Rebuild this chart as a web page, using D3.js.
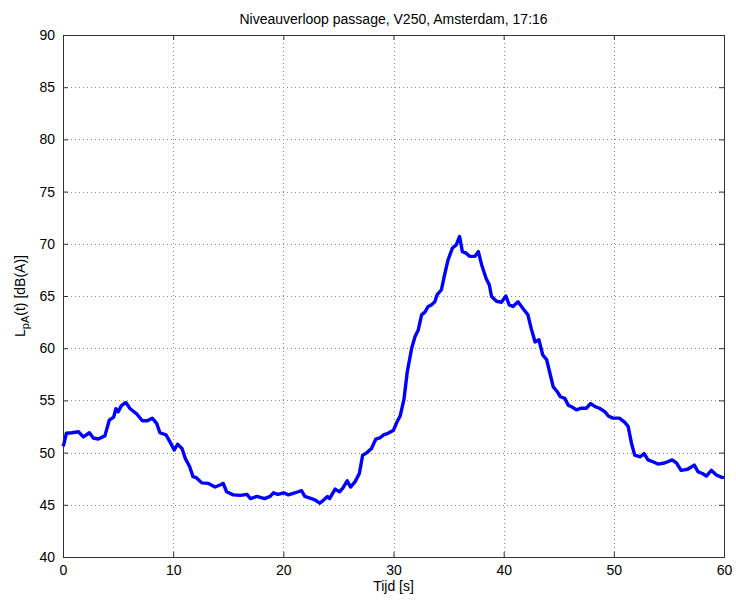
<!DOCTYPE html>
<html lang="nl">
<head>
<meta charset="utf-8">
<script src="https://cdnjs.cloudflare.com/ajax/libs/d3/7.8.5/d3.min.js"></script>
<style>
  body { margin: 0; background: #fff; }
  text { font-family: "Liberation Sans", Arial, sans-serif; fill: #000; }
  .grid line { stroke: #8c8c8c; stroke-dasharray: 1,3; stroke-width: 1; }
</style>
</head>
<body>
<script>
// time [s] and level [dB(A)]
var tijd = [0, 0.1, 0.3, 0.8, 1.4, 1.85, 2.4, 2.75, 3.2, 3.8, 4.2, 4.6, 4.8, 5.0, 5.3, 5.7, 6.1, 6.7, 7.2, 7.65,
  8.1, 8.5, 8.8, 9.35, 9.7, 10.1, 10.4, 10.8, 11.1, 11.5, 11.8, 12.1, 12.6, 13.2, 13.8, 14.25, 14.55, 14.85, 15.45, 16.1,
  16.7, 17.0, 17.6, 18.3, 18.8, 19.1, 19.5, 20.05, 20.45, 20.9, 21.35, 21.65, 21.95, 22.55, 22.9, 23.3, 23.6, 24.0, 24.2, 24.7,
  25.1, 25.4, 25.8, 26.1, 26.5, 26.9, 27.2, 27.6, 28.0, 28.4, 28.75, 29.1, 29.5, 30.0, 30.3, 30.6, 30.95, 31.25, 31.65, 31.95,
  32.25, 32.55, 32.85, 33.15, 33.45, 33.75, 33.95, 34.35, 34.6, 34.95, 35.35, 35.7, 36.0, 36.25, 36.6, 36.9, 37.4, 37.7, 38.0, 38.4,
  38.7, 38.9, 39.35, 39.8, 40.2, 40.5, 40.85, 41.3, 41.75, 42.2, 42.5, 42.85, 43.2, 43.55, 43.9, 44.2, 44.5, 44.85, 45.15, 45.55,
  45.85, 46.15, 46.6, 47.05, 47.5, 47.9, 48.3, 48.7, 49.2, 49.5, 49.9, 50.5, 51.0, 51.3, 51.6, 51.9, 52.4, 52.75, 53.1, 53.6,
  54.0, 54.6, 55.3, 55.7, 56.1, 56.7, 57.3, 57.65, 58.05, 58.4, 58.85, 59.3, 59.75, 60];
var niveau = [50.6, 50.9, 51.85, 51.9, 52.0, 51.5, 51.9, 51.4, 51.3, 51.6, 53.1, 53.4, 54.2, 53.9, 54.5, 54.8, 54.2, 53.7, 53.05, 53.05,
  53.3, 52.8, 51.9, 51.7, 51.05, 50.25, 50.8, 50.4, 49.45, 48.65, 47.7, 47.6, 47.1, 47.05, 46.7, 46.9, 47.05, 46.25, 45.95, 45.9,
  46.0, 45.6, 45.8, 45.6, 45.8, 46.15, 46.0, 46.15, 45.95, 46.1, 46.25, 46.35, 45.8, 45.6, 45.45, 45.15, 45.4, 45.8, 45.6, 46.5,
  46.25, 46.6, 47.3, 46.7, 47.2, 48.0, 49.75, 50.0, 50.4, 51.3, 51.4, 51.7, 51.85, 52.15, 52.9, 53.5, 55.1, 57.75, 60.0, 61.1,
  61.75, 63.2, 63.45, 64.0, 64.15, 64.45, 65.1, 65.6, 66.85, 68.45, 69.6, 69.9, 70.7, 69.25, 69.1, 68.8, 68.8, 69.25, 68.0, 66.7,
  66.05, 64.95, 64.5, 64.4, 65.0, 64.15, 64.0, 64.45, 63.8, 63.2, 61.9, 60.6, 60.8, 59.35, 58.9, 57.6, 56.3, 55.85, 55.35, 55.2,
  54.55, 54.4, 54.1, 54.25, 54.25, 54.7, 54.4, 54.25, 53.9, 53.5, 53.3, 53.3, 52.9, 52.5, 50.9, 49.75, 49.6, 49.9, 49.3, 49.1,
  48.9, 49.0, 49.3, 49.0, 48.3, 48.4, 48.8, 48.15, 48.0, 47.75, 48.3, 47.85, 47.65, 47.6];

var xTicks = [0, 10, 20, 30, 40, 50, 60];
var yTicks = [40, 45, 50, 55, 60, 65, 70, 75, 80, 85, 90];

var titel = "Niveauverloop passage, V250, Amsterdam, 17:16";

var margin = {top: 35, right: 12, bottom: 44, left: 63},
    width = 736 - margin.left - margin.right,
    height = 601 - margin.top - margin.bottom;

var svg = d3.select("body").append("svg")
    .attr("width", 736)
    .attr("height", 601);

var g = svg.append("g")
    .attr("transform", "translate(" + margin.left + "," + margin.top + ")");

var x = d3.scaleLinear().domain([0, 60]).range([0, width]);
var y = d3.scaleLinear().domain([40, 90]).range([height, 0]);

// dotted grid
g.append("g").attr("class", "grid")
  .selectAll("line").data(xTicks.slice(1, -1)).enter().append("line")
    .attr("x1", function(d) { return Math.round(x(d)) + 0.5; })
    .attr("x2", function(d) { return Math.round(x(d)) + 0.5; })
    .attr("y1", 0).attr("y2", height);
g.append("g").attr("class", "grid")
  .selectAll("line").data(yTicks.slice(1, -1)).enter().append("line")
    .attr("y1", function(d) { return Math.round(y(d)) + 0.5; })
    .attr("y2", function(d) { return Math.round(y(d)) + 0.5; })
    .attr("x1", 0).attr("x2", width);

// axes, ticks pointing inward on all four sides
function styleAxis(sel) {
  sel.select(".domain").remove();
  sel.selectAll(".tick line").attr("stroke", "#333");
  sel.selectAll("text").style("font-size", "14px");
}
var xAxis = d3.axisBottom(x).tickValues(xTicks).tickSizeInner(-5).tickSizeOuter(0).tickPadding(8);
var yAxis = d3.axisLeft(y).tickValues(yTicks).tickSizeInner(-5).tickSizeOuter(0).tickPadding(8);

g.append("g").attr("transform", "translate(0," + height + ")").call(xAxis).call(styleAxis);
g.append("g").call(yAxis).call(styleAxis);
g.append("g").call(d3.axisTop(x).tickValues(xTicks).tickSizeInner(-5).tickSizeOuter(0).tickFormat(""))
  .call(styleAxis);
g.append("g").attr("transform", "translate(" + width + ",0)")
  .call(d3.axisRight(y).tickValues(yTicks).tickSizeInner(-5).tickSizeOuter(0).tickFormat(""))
  .call(styleAxis);

g.append("rect")
    .attr("x", 0.5).attr("y", 0.5)
    .attr("width", width).attr("height", height)
    .attr("fill", "none").attr("stroke", "#333");

// level line
var line = d3.line()
    .x(function(d, i) { return x(tijd[i]); })
    .y(function(d) { return y(d); });

g.append("path")
    .datum(niveau)
    .attr("fill", "none")
    .attr("stroke", "#0000ff")
    .attr("stroke-width", 3.4)
    .attr("stroke-linejoin", "round")
    .attr("d", line);

// labels
svg.append("text")
    .attr("x", margin.left + width / 2).attr("y", 24)
    .style("text-anchor", "middle").style("font-size", "14px")
    .text(titel);

svg.append("text")
    .attr("x", margin.left + width / 2).attr("y", 591)
    .style("text-anchor", "middle").style("font-size", "14px")
    .text("Tijd [s]");

var yl = svg.append("text")
    .attr("transform", "translate(25," + (margin.top + height / 2) + ") rotate(-90)")
    .style("text-anchor", "middle").style("font-size", "14px");
yl.append("tspan").text("L");
yl.append("tspan").attr("dy", 4).style("font-size", "11px").text("pA");
yl.append("tspan").attr("dy", -4).text("(t) [dB(A)]");
</script>
</body>
</html>
